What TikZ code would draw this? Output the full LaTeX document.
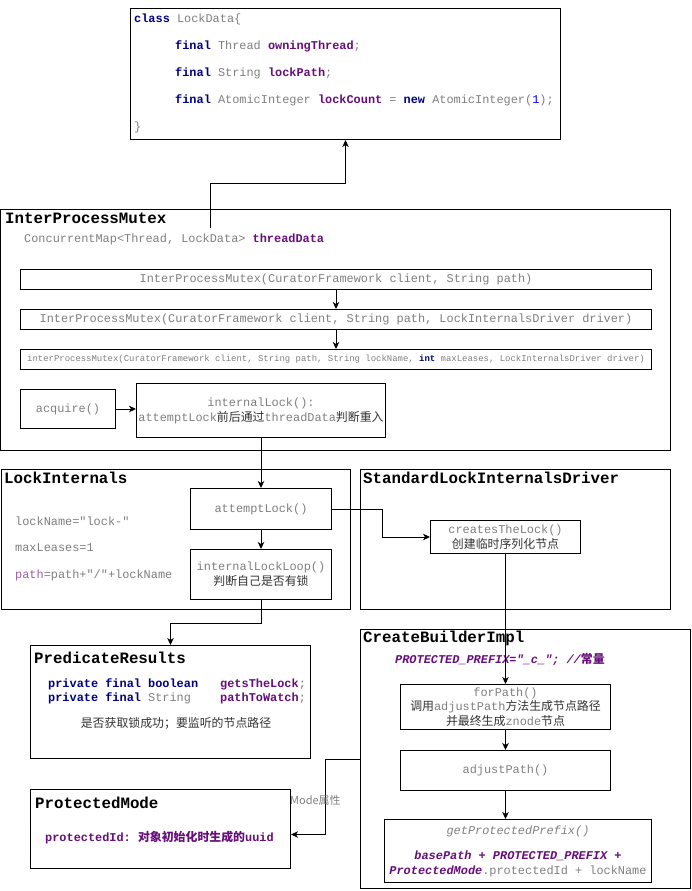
\documentclass[tikz,border=0pt]{standalone}
\usepackage{fontspec}
\setmonofont{Liberation Mono}
\newfontfamily\cjkfont{Noto Sans CJK SC}
\usetikzlibrary{arrows.meta}
\definecolor{kwBlue}{HTML}{000080}
\definecolor{fieldPurple}{HTML}{660E7A}
\definecolor{codeGray}{HTML}{808080}
\definecolor{zhGray}{HTML}{333333}
\definecolor{numBlue}{HTML}{0000FF}
\definecolor{pathPurple}{HTML}{9B5FA8}
\newcommand{\zh}[1]{{\cjkfont\color{zhGray}#1}}
\newcommand{\kw}[1]{{\color{kwBlue}\bfseries #1}}
\newcommand{\fld}[1]{{\color{fieldPurple}\bfseries #1}}
\tikzset{
  container/.style={draw, line width=1pt, fill=white, inner sep=0pt, anchor=north west},
  methodBox/.style={draw, line width=1pt, fill=white, inner sep=1pt, align=center,
    text=codeGray, anchor=north west},
  boxTitle/.style={anchor=west, inner sep=0pt, font=\ttfamily\bfseries\fontsize{15.8}{18}\selectfont},
  codeText/.style={anchor=west, inner sep=0pt, text=codeGray},
  flow/.style={line width=1pt, -{Stealth[length=7pt,width=6.5pt,inset=2pt]}},
}
\begin{document}
\begin{tikzpicture}[x=1pt,y=-1pt,font=\ttfamily\fontsize{11.9}{14}\selectfont]
\useasboundingbox (0,0) rectangle (691,891);

% LockData
\node[container, minimum width=430pt, minimum height=131pt] (lockData) at (130,8) {};
\node[codeText, anchor=north west, align=left, font=\ttfamily\fontsize{11.9}{27}\selectfont]
  (lockDataCode) at (134,14) {%
  \kw{class} LockData\{\\
  \hspace*{41pt}\kw{final} Thread \fld{owningThread};\\
  \hspace*{41pt}\kw{final} String \fld{lockPath};\\
  \hspace*{41pt}\kw{final} AtomicInteger \fld{lockCount} = \kw{new} AtomicInteger({\color{numBlue}1});\\
  \}};

% InterProcessMutex
\node[container, minimum width=670pt, minimum height=241pt] (ipm) at (0,209) {};
\node[boxTitle] (ipmTitle) at (5,218) {InterProcessMutex};
\node[codeText] (threadData) at (24,239) {ConcurrentMap<Thread, LockData> \fld{threadData}};
\coordinate (tdLink) at (210,228);
\node[methodBox, minimum width=631pt, minimum height=20pt] (ctorPath) at (20,269)
  {InterProcessMutex(CuratorFramework client, String path)};
\node[methodBox, minimum width=631pt, minimum height=20pt] (ctorDriver) at (20,309)
  {InterProcessMutex(CuratorFramework client, String path, LockInternalsDriver driver)};
\node[methodBox, minimum width=631pt, minimum height=20pt, font=\ttfamily\fontsize{8.95}{11}\selectfont]
  (ctorFull) at (20,349)
  {interProcessMutex(CuratorFramework client, String path, String lockName, \kw{int} maxLeases, LockInternalsDriver driver)};
\node[methodBox, minimum width=95pt, minimum height=39pt] (acquire) at (20,389) {acquire()};
\node[methodBox, minimum width=249pt, minimum height=54pt] (internalLock) at (136,383)
  {internalLock():\\[1pt]attemptLock\zh{前后通过}threadData\zh{判断重入}};

% LockInternals
\node[container, minimum width=349pt, minimum height=140pt] (lockInternals) at (1,469) {};
\node[boxTitle] (liTitle) at (4,478) {LockInternals};
\node[codeText] (lockName) at (15,521) {lockName="lock-"};
\node[codeText] (maxLeases) at (15,548) {maxLeases=1};
\node[codeText] (pathDef) at (15,575) {{\color{pathPurple}path}=path+"/"+lockName};
\node[methodBox, minimum width=141pt, minimum height=41pt] (attemptLock) at (190,488) {attemptLock()};
\node[methodBox, minimum width=141pt, minimum height=50pt] (lockLoop) at (190,549)
  {internalLockLoop()\\[1pt]\zh{判断自己是否有锁}};

% StandardLockInternalsDriver
\node[container, minimum width=310pt, minimum height=140pt] (stdDriver) at (360,469) {};
\node[boxTitle] (sdTitle) at (363,478) {StandardLockInternalsDriver};
\node[methodBox, minimum width=150pt, minimum height=33pt, font=\ttfamily\fontsize{11.9}{15}\selectfont]
  (createsLock) at (430,520) {createsTheLock()\\\zh{创建临时序列化节点}};

% PredicateResults
\node[container, minimum width=280pt, minimum height=113pt] (predicate) at (30,645) {};
\node[boxTitle] (prTitle) at (34,658) {PredicateResults};
\node[codeText] (prLineA) at (48,684) {\kw{private} \kw{final} \kw{boolean}};
\node[codeText] (prFieldA) at (220,684) {\fld{getsTheLock};};
\node[codeText] (prLineB) at (48,698) {\kw{private} \kw{final} String};
\node[codeText] (prFieldB) at (220,698) {\fld{pathToWatch};};
\node[inner sep=0pt] (prNote) at (176,723) {\zh{是否获取锁成功；要监听的节点路径}};

% CreateBuilderImpl
\node[container, minimum width=330pt, minimum height=259pt] (builder) at (360,629) {};
\node[boxTitle] (cbTitle) at (363,638) {CreateBuilderImpl};
\node[codeText, text=fieldPurple, font=\ttfamily\bfseries\itshape\fontsize{11.9}{14}\selectfont]
  (prefixConst) at (395,659) {PROTECTED\_PREFIX="\_c\_"; //{\cjkfont\bfseries 常量}};
\node[methodBox, minimum width=210pt, minimum height=45pt, font=\ttfamily\fontsize{11.9}{14.5}\selectfont]
  (forPath) at (400,684) {forPath()\\\zh{调用}adjustPath\zh{方法生成节点路径}\\\zh{并最终生成}znode\zh{节点}};
\node[methodBox, minimum width=210pt, minimum height=40pt] (adjustPath) at (400,750) {adjustPath()};
\node[methodBox, minimum width=267pt, minimum height=63pt, font=\ttfamily\fontsize{11.9}{15}\selectfont]
  (protPrefix) at (384,819)
  {\itshape getProtectedPrefix()\\[10pt]
   {\color{fieldPurple}\bfseries\itshape basePath + PROTECTED\_PREFIX +}\\
   {\color{fieldPurple}\bfseries\itshape ProtectedMode}.protectedId + lockName};
\coordinate (modeLink) at (360,759);

% ProtectedMode
\node[container, minimum width=260pt, minimum height=79pt] (protMode) at (30,789) {};
\node[boxTitle] (pmTitle) at (35,803) {ProtectedMode};
\node[codeText, text=fieldPurple] (protId) at (45,838)
  {\bfseries protectedId: {\cjkfont\bfseries 对象初始化时生成的}uuid};

% connectors
\draw[flow] (tdLink) -- (tdLink |- 0,183) -| (lockData.south);
\draw[flow] (ctorPath.south -| 336,0) -- (ctorDriver.north -| 336,0);
\draw[flow] (ctorDriver.south -| 336,0) -- (ctorFull.north -| 336,0);
\draw[flow] (acquire.east) -- (internalLock.west |- acquire.east);
\draw[flow] (internalLock.south) -- (internalLock.south |- attemptLock.north);
\draw[flow] (attemptLock.south) -- (lockLoop.north);
\draw[flow] (attemptLock.east) -- ++(50,0) |- (createsLock.west);
\draw[flow] (lockLoop.south) -- ++(0,23) -| (predicate.north);
\draw[flow] (createsLock.south) -- (createsLock.south |- forPath.north);
\draw[flow] (forPath.south) -- (adjustPath.north);
\draw[flow] (adjustPath.south) -- (adjustPath.south |- protPrefix.north);
\draw[flow] (modeLink) -- ++(-35,0) |- ([yshift=-5.5pt]protMode.east);
\node[anchor=west, inner sep=0pt, text=codeGray, font=\cjkfont\fontsize{11}{13}\selectfont]
  (modeLabel) at (290,800) {Mode属性};
\end{tikzpicture}
\end{document}
